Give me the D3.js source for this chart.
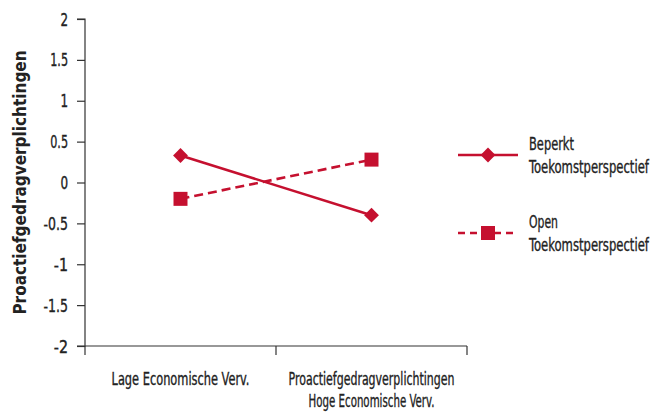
<!DOCTYPE html>
<html><head><meta charset="utf-8">
<script src="https://cdn.jsdelivr.net/npm/d3@7"></script>
<style>
body{margin:0;background:#fff;}
text{font-family:"DejaVu Sans Condensed","Liberation Sans Narrow",sans-serif;font-stretch:condensed;fill:#222;stroke:#222;stroke-width:0.35px;}
</style></head>
<body><svg id="c" width="652" height="413"></svg>
<script>
const categories = ["Lage Economische Verv.", "Hoge Economische Verv."];
const beperkt = [0.33, -0.40];
const open = [-0.20, 0.28];
const yTicks = [2, 1.5, 1, 0.5, 0, -0.5, -1, -1.5, -2];
const seriesNames = [["Beperkt", "Toekomstperspectief"], ["Open", "Toekomstperspectief"]];
const yTitle = "Proactiefgedragverplichtingen";
const color = "#C5102F";

const svg = d3.select("#c");
const x = d3.scaleBand().domain(categories).range([85, 467]);
const y = d3.scaleLinear().domain([-2, 2]).range([346, 19]);

// text squeezed horizontally to a measured width
function label(parent, px, py, txt, opts) {
  const g = parent.append("g").attr("transform", `translate(${px},${py})`);
  const t = g.append("text").attr("text-anchor", opts.anchor || "start")
    .style("font-size", (opts.size || 16) + "px").style("font-weight", opts.weight || "normal").text(txt);
  if (opts.weight === "bold") t.style("stroke-width", "0px");
  const bw = t.node().getComputedTextLength();
  const sx = opts.w && bw > opts.w ? opts.w / bw : 1;
  g.attr("transform", `translate(${px},${py})${opts.rot ? " rotate(" + opts.rot + ")" : ""} scale(${sx},1)`);
  return g;
}

// y axis
const ya = svg.append("g").attr("transform", "translate(85,0)")
  .call(d3.axisLeft(y).tickValues(yTicks).tickFormat("").tickSize(8));
ya.select(".domain").attr("stroke", "#333").attr("stroke-width", 1.2).attr("d", `M-8,${y(2)}H0V${y(-2)}H-8`);
ya.selectAll(".tick line").attr("stroke", "#333").attr("stroke-width", 1.2);
yTicks.forEach(v => {
  const s = String(v);
  label(svg, 68, y(v) + 6.5, s, {anchor: "end", size: 17.5, w: s.length * 6.6 - (s.includes(".") ? 3 : 0) + 1});
});

// x axis
const xa = svg.append("g").attr("transform", `translate(0,${y(-2)})`);
xa.append("path").attr("d", `M85,0H467`).attr("stroke", "#333").attr("stroke-width", 1.2);
[85, x(categories[1]), 467].forEach(px => xa.append("line").attr("x1", px).attr("x2", px).attr("y1", 0).attr("y2", 9).attr("stroke", "#333").attr("stroke-width", 1.2));
const c0 = x(categories[0]) + x.bandwidth()/2, c1 = x(categories[1]) + x.bandwidth()/2;
label(svg, c0, 385, categories[0], {anchor: "middle", size: 17.5, w: 138});
label(svg, c1, 385, yTitle, {anchor: "middle", size: 17.5, w: 166});
label(svg, c1, 407, categories[1], {anchor: "middle", size: 17.5, w: 126});

// y title
label(svg, 26, (y(2) + y(-2)) / 2, yTitle, {anchor: "middle", size: 17, weight: "bold", w: 283, rot: -90});

const cx = d => x(d) + x.bandwidth()/2;
const line = d3.line().x((d, i) => cx(categories[i])).y(d => y(d));

svg.append("path").datum(beperkt).attr("d", line).attr("fill", "none").attr("stroke", color).attr("stroke-width", 2.6);
svg.append("path").datum(open).attr("d", line).attr("fill", "none").attr("stroke", color).attr("stroke-width", 2.6).attr("stroke-dasharray", "9,5");

const diamond = d3.symbol().type(d3.symbolSquare).size(110);
svg.selectAll(".dm").data(beperkt).join("path").attr("d", diamond)
  .attr("transform", (d, i) => `translate(${cx(categories[i])},${y(d)}) rotate(45)`).attr("fill", color);
const sq = d3.symbol().type(d3.symbolSquare).size(196);
svg.selectAll(".sq").data(open).join("path").attr("d", sq)
  .attr("transform", (d, i) => `translate(${cx(categories[i])},${y(d)})`).attr("fill", color);

// legend
const lg = [{y: 155, dash: null, sym: "d"}, {y: 233, dash: "7,5", sym: "s"}];
const w1 = [45, 29];
lg.forEach((l, i) => {
  svg.append("line").attr("x1", 458).attr("x2", 518).attr("y1", l.y).attr("y2", l.y)
    .attr("stroke", color).attr("stroke-width", 2.6).attr("stroke-dasharray", l.dash);
  if (l.sym === "d") svg.append("path").attr("d", diamond).attr("transform", `translate(488,${l.y}) rotate(45)`).attr("fill", color);
  else svg.append("path").attr("d", sq).attr("transform", `translate(488,${l.y})`).attr("fill", color);
  label(svg, 529, l.y - 5, seriesNames[i][0], {size: 17, w: w1[i]});
  label(svg, 529, l.y + 18, seriesNames[i][1], {size: 17, w: 120});
});
</script></body></html>
